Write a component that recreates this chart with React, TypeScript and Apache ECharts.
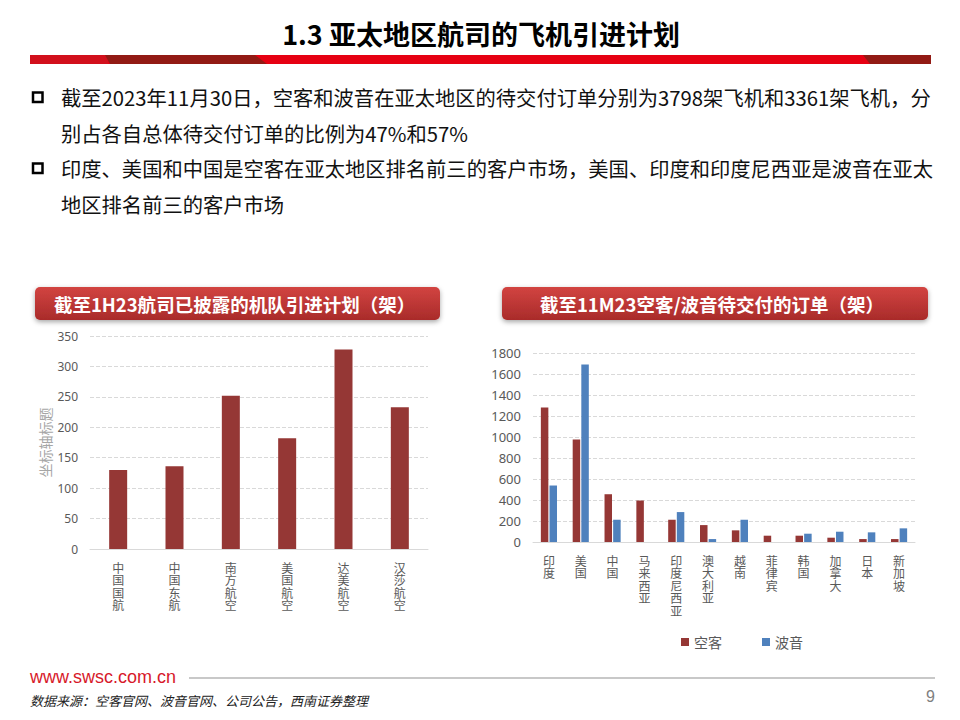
import React, { useEffect, useRef } from "react";
import * as echarts from "echarts";

const pageTitle = "1.3 亚太地区航司的飞机引进计划";
const bulletLines = [
  "截至2023年11月30日，空客和波音在亚太地区的待交付订单分别为3798架飞机和3361架飞机，分",
  "别占各自总体待交付订单的比例为47%和57%",
  "印度、美国和中国是空客在亚太地区排名前三的客户市场，美国、印度和印度尼西亚是波音在亚太",
  "地区排名前三的客户市场",
];
const leftTitle = "截至1H23航司已披露的机队引进计划（架）";
const rightTitle = "截至11M23空客/波音待交付的订单（架）";
const leftAxisName = "坐标轴标题";

const airlines = ["中国国航", "中国东航", "南方航空", "美国航空", "达美航空", "汉莎航空"];
const fleetPlan = [130, 136, 252, 182, 328, 233];
const leftTicks = [0, 50, 100, 150, 200, 250, 300, 350];

const countries = ["印度", "美国", "中国", "马来西亚", "印度尼西亚", "澳大利亚", "越南", "菲律宾", "韩国", "加拿大", "日本", "新加坡"];
const seriesNames = ["空客", "波音"];
const airbusBacklog = [1281, 977, 455, 395, 212, 161, 111, 60, 60, 41, 28, 28];
const boeingBacklog = [538, 1690, 212, 0, 285, 28, 212, 0, 79, 98, 92, 130];
const rightTicks = [0, 200, 400, 600, 800, 1000, 1200, 1400, 1600, 1800];

const siteUrl = "www.swsc.com.cn";
const sourceNote = "数据来源：空客官网、波音官网、公司公告，西南证券整理";
const pageNumber = "9";

const CJK = "'Noto Sans CJK SC', 'Noto Sans', sans-serif";
const RED = "#953735";
const BLUE = "#4f81bd";
const GREY = "#595959";

const vertical = (v: string) => v.split("").join("\n");
const plain = (v: number) => String(v);

export default function App() {
  const ref = useRef<HTMLDivElement>(null);
  useEffect(() => {
    if (!ref.current) return;
    const chart = echarts.init(ref.current, null, { renderer: "svg" });

    const headerBox = (x: number, w: number, text: string) => ({
      type: "group",
      children: [
        {
          type: "rect",
          shape: { x, y: 287, width: w, height: 33, r: 5 },
          style: {
            fill: new echarts.graphic.LinearGradient(0, 0, 0, 1, [
              { offset: 0, color: "#d24441" },
              { offset: 1, color: "#a92b2a" },
            ]),
            shadowBlur: 5,
            shadowOffsetY: 2,
            shadowColor: "rgba(0,0,0,0.35)",
          },
        },
        {
          type: "text",
          x: x + w / 2 - 3,
          y: 304,
          style: {
            text,
            fill: "#ffffff",
            font: `bold 18.5px ${CJK}`,
            textAlign: "center",
            textVerticalAlign: "middle",
          },
        },
      ],
    });

    const graphics: any[] = [
      {
        type: "text",
        x: 481,
        y: 33,
        style: {
          text: pageTitle,
          fill: "#000",
          font: `bold 27px ${CJK}`,
          textAlign: "center",
          textVerticalAlign: "middle",
        },
      },
      { type: "rect", shape: { x: 30, y: 55, width: 901, height: 9 }, style: { fill: "#e60012" } },
      { type: "rect", shape: { x: 30, y: 55, width: 78, height: 9 }, style: { fill: "#d2101c" } },
      {
        type: "polygon",
        shape: { points: [[105, 55], [255, 55], [267, 64], [110, 64]] },
        style: { fill: "#921a14" },
      },
      {
        type: "polygon",
        shape: { points: [[863, 55], [931, 55], [931, 64], [870, 64]] },
        style: { fill: "#921a14" },
      },
    ];

    const lineYs = [97, 133, 168, 204];
    bulletLines.forEach((t, i) => {
      graphics.push({
        type: "text",
        x: 61,
        y: lineYs[i],
        style: { text: t, fill: "#111", font: `20.3px ${CJK}`, textVerticalAlign: "middle" },
      });
    });
    [92.5, 163.5].forEach((y) => {
      graphics.push({
        type: "rect",
        shape: { x: 33, y, width: 9.5, height: 9.5 },
        style: { fill: "none", stroke: "#000", lineWidth: 2.5 },
      });
    });

    graphics.push(headerBox(35, 405, leftTitle));
    graphics.push(headerBox(502, 426, rightTitle));

    graphics.push(
      {
        type: "text",
        x: 30,
        y: 677,
        style: {
          text: siteUrl,
          fill: "#d7182a",
          font: "18px 'Liberation Sans', Arial, sans-serif",
          textVerticalAlign: "middle",
        },
      },
      {
        type: "line",
        shape: { x1: 189, y1: 678, x2: 935, y2: 678 },
        style: { stroke: "#c8c8c8", lineWidth: 2 },
      },
      {
        type: "text",
        x: 30,
        y: 700,
        style: {
          text: sourceNote,
          fill: "#222",
          font: `italic 13px ${CJK}`,
          textVerticalAlign: "middle",
        },
      },
      {
        type: "text",
        x: 935,
        y: 696,
        style: {
          text: pageNumber,
          fill: "#7f7f7f",
          font: "16px 'Liberation Sans', Arial, sans-serif",
          textAlign: "right",
          textVerticalAlign: "middle",
        },
      }
    );

    const catLabel = {
      formatter: vertical,
      color: GREY,
      fontSize: 12,
      lineHeight: 12.5,
      margin: 12,
      interval: 0,
      fontFamily: CJK,
    };

    const option: any = {
      animation: false,
      backgroundColor: "#ffffff",
      graphic: graphics,
      legend: {
        data: seriesNames,
        left: 676,
        top: 630,
        itemWidth: 8,
        itemHeight: 8,
        itemGap: 40,
        icon: "rect",
        textStyle: { color: GREY, fontSize: 14, fontFamily: CJK },
      },
      grid: [
        { left: 90, top: 336, width: 338, height: 213 },
        { left: 533, top: 353, width: 382, height: 189 },
      ],
      xAxis: [
        {
          type: "category",
          gridIndex: 0,
          data: airlines,
          axisTick: { show: false },
          axisLine: { lineStyle: { color: "#d9d9d9", width: 1 } },
          axisLabel: catLabel,
        },
        {
          type: "category",
          gridIndex: 1,
          data: countries,
          axisTick: { show: false },
          axisLine: { lineStyle: { color: "#d9d9d9", width: 1 } },
          axisLabel: catLabel,
        },
      ],
      yAxis: [
        {
          type: "value",
          gridIndex: 0,
          min: leftTicks[0],
          max: leftTicks[leftTicks.length - 1],
          interval: leftTicks[1] - leftTicks[0],
          name: leftAxisName,
          nameLocation: "middle",
          nameRotate: 90,
          nameGap: 38,
          nameTextStyle: { color: "#a6a6a6", fontSize: 14, fontFamily: CJK },
          axisLine: { show: false },
          axisTick: { show: false },
          axisLabel: { color: GREY, fontSize: 12, margin: 12, formatter: plain, fontFamily: "'Noto Sans', sans-serif" },
          splitLine: { lineStyle: { color: "#d9d9d9", type: "dashed" } },
        },
        {
          type: "value",
          gridIndex: 1,
          min: rightTicks[0],
          max: rightTicks[rightTicks.length - 1],
          interval: rightTicks[1] - rightTicks[0],
          axisLine: { show: false },
          axisTick: { show: false },
          axisLabel: { color: GREY, fontSize: 13, margin: 12, formatter: plain, fontFamily: "'Noto Sans', sans-serif" },
          splitLine: { lineStyle: { color: "#d9d9d9", type: "dashed" } },
        },
      ],
      series: [
        {
          name: "机队引进计划",
          type: "bar",
          xAxisIndex: 0,
          yAxisIndex: 0,
          data: fleetPlan,
          barWidth: 18,
          itemStyle: { color: RED },
        },
        {
          name: seriesNames[0],
          type: "bar",
          xAxisIndex: 1,
          yAxisIndex: 1,
          data: airbusBacklog,
          barWidth: 7.5,
          barGap: "15%",
          itemStyle: { color: RED },
        },
        {
          name: seriesNames[1],
          type: "bar",
          xAxisIndex: 1,
          yAxisIndex: 1,
          data: boeingBacklog,
          barWidth: 7.5,
          barGap: "15%",
          itemStyle: { color: BLUE },
        },
      ],
    };
    chart.setOption(option);
    return () => chart.dispose();
  }, []);
  return (
    <div
      ref={ref}
      style={{ position: "absolute", left: 0, top: 0, width: 960, height: 720 }}
    />
  );
}
